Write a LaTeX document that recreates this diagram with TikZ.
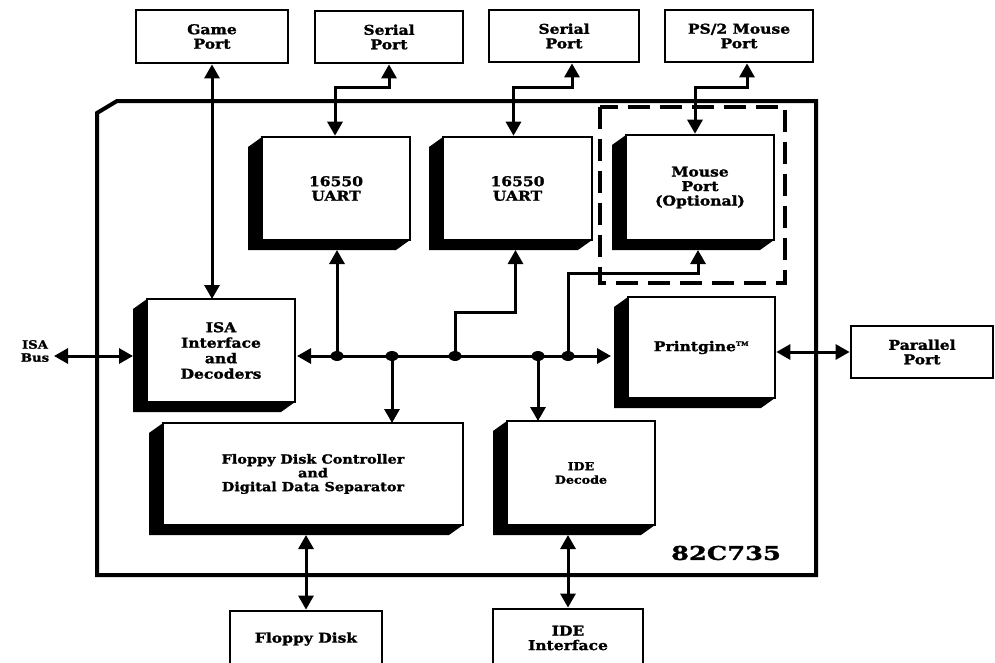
\documentclass[tikz,border=0pt]{standalone}
\usepackage{fontspec}
\setmainfont{DejaVu Serif}[FakeStretch=1.15, BoldFeatures={FakeBold=1.5}]
\newfontfamily\bigfnt{DejaVu Serif}[FakeStretch=1.35, BoldFeatures={FakeBold=1.5}]
\usetikzlibrary{arrows.meta}
\tikzset{
  lbl/.style={font=\bfseries\fontsize{13.5}{14.5}\selectfont, align=center},
  midlbl/.style={font=\bfseries\fontsize{12.5}{13.8}\selectfont, align=center},
  smlbl/.style={font=\bfseries\fontsize{11}{13.5}\selectfont, align=center},
  portbox/.style={draw, line width=2.8pt, fill=white, inner sep=0pt, lbl},
  face/.style={draw, line width=2.6pt, fill=white, inner sep=0pt, lbl},
  extent/.style={inner sep=0pt, outer sep=0pt},
  conn/.style={line width=3pt},
  arr/.style={conn, -{Triangle[width=15pt,length=14pt]}},
  darr/.style={conn, {Triangle[width=15pt,length=14pt]}-{Triangle[width=15pt,length=14pt]}},
  jdot/.style={fill=black},
  chipline/.style={line width=4pt, line join=miter},
  optline/.style={line width=3.5pt, dash pattern=on 22pt off 10pt},
}
% #1 name, #2 x1, #3 y1, #4 x2, #5 y2, #6 text, #7 extra style
\newcommand\chipbox[7]{%
  \fill[black] (#2,#3) -- (#2-14,#3+10) -- (#2-14,#5+10) -- (#4-14,#5+10) -- (#4,#5) -- cycle;
  \node[face, #7, minimum width=#4-#2, minimum height=#5-#3] (#1f) at ({(#2+#4)/2},{(#3+#5)/2}) {#6};
  \node[extent, minimum width=#4-#2+14, minimum height=#5-#3+10] (#1) at ({(#2-14+#4)/2},{(#3+#5+10)/2}) {};
}
\begin{document}
\begin{tikzpicture}[x=1pt,y=-1pt]
\useasboundingbox (0,0) rectangle (995,662);

% chip outline
\draw[chipline] (117,101) -- (816,101) -- (816,575) -- (97,575) -- (97,113) -- cycle;
\node[font=\bigfnt\bfseries\fontsize{19}{22}\selectfont] (chipname) at (726,553) {82C735};

% optional mouse region
\draw[optline] (600,107) rectangle (785,283);

% external ports
\node[portbox, minimum width=152, minimum height=53] (game) at (212,36.5) {Game\\Port};
\node[portbox, minimum width=148, minimum height=52] (ser1) at (389,37) {Serial\\Port};
\node[portbox, minimum width=150, minimum height=52] (ser2) at (564,36) {Serial\\Port};
\node[portbox, minimum width=148, minimum height=52] (ps2) at (739,36) {PS/2 Mouse\\Port};
\node[portbox, minimum width=142, minimum height=52] (par) at (922,352) {Parallel\\Port};
\node[portbox, minimum width=152, minimum height=56] (floppy) at (306,639) {Floppy Disk};
\node[portbox, minimum width=150, minimum height=58] (ideint) at (568,638) {IDE\\Interface};
\node[font=\bfseries\fontsize{11.5}{13}\selectfont, align=center] (isabus) at (35,351) {ISA\\Bus};
\coordinate (isaBusEnd) at (54,356);

% internal blocks
\chipbox{uart1}{262}{137}{410}{240}{16550\\UART}{}
\chipbox{uart2}{443}{137}{592}{240}{16550\\UART}{}
\chipbox{mouse}{626}{135}{774}{240}{Mouse\\Port\\(Optional)}{}
\chipbox{isa}{147}{299}{295}{402}{ISA\\Interface\\and\\Decoders}{font=\bfseries\fontsize{13.5}{15.5}\selectfont}
\chipbox{prt}{628}{297}{775}{398}{Printgine\textsuperscript{\fontsize{6}{6}\selectfont TM}}{}
\chipbox{fdc}{163}{423}{463}{525}{Floppy Disk Controller\\and\\Digital Data Separator}{midlbl}
\chipbox{ide}{507}{421}{655}{525}{IDE\\Decode}{smlbl}

% internal bus
\coordinate (busL) at (297,356);
\coordinate (busR) at (611,356);
\coordinate (j1) at (337,356);
\coordinate (j2) at (392,356);
\coordinate (j3) at (455,356);
\coordinate (j4) at (538,356);
\coordinate (j5) at (568,356);
\draw[darr] (busL) -- (busR);
\draw[arr] (j1) -- (j1 |- uart1.south);
\draw[arr] (j2) -- (j2 |- fdc.north);
\draw[arr] (j3) -- (j3 |- 0,312) -| ([xshift=-2pt]uart2f.south |- uart2.south);
\draw[arr] (j4) -- (j4 |- ide.north);
\draw[arr] (j5) -- (j5 |- 0,273) -| ([xshift=-2pt]mousef.south |- mouse.south);
\foreach \j in {j1,j2,j3,j4,j5} \fill[jdot] (\j) ellipse (6.5 and 5);

% external links
\draw[darr] (game.south) -- (game.south |- isa.north);
\draw[darr] ([xshift=-1pt]uart1f.north) -- ([xshift=-1pt]uart1f.north |- 0,87) -| (ser1.south);
\draw[darr] ([xshift=-4pt]uart2f.north) -- ([xshift=-4pt]uart2f.north |- 0,87) -| ([xshift=8pt]ser2.south);
\draw[darr] ([xshift=-5pt]mousef.north) -- ([xshift=-5pt]mousef.north |- 0,87) -| ([xshift=8pt]ps2.south);
\draw[darr] (isaBusEnd) -- (isa.west |- busL);
\draw[darr] (prtf.east |- par.west) -- (par.west);
\draw[darr] (floppy.north |- fdc.south) -- (floppy.north);
\draw[darr] (ideint.north |- ide.south) -- (ideint.north);
\end{tikzpicture}
\end{document}
